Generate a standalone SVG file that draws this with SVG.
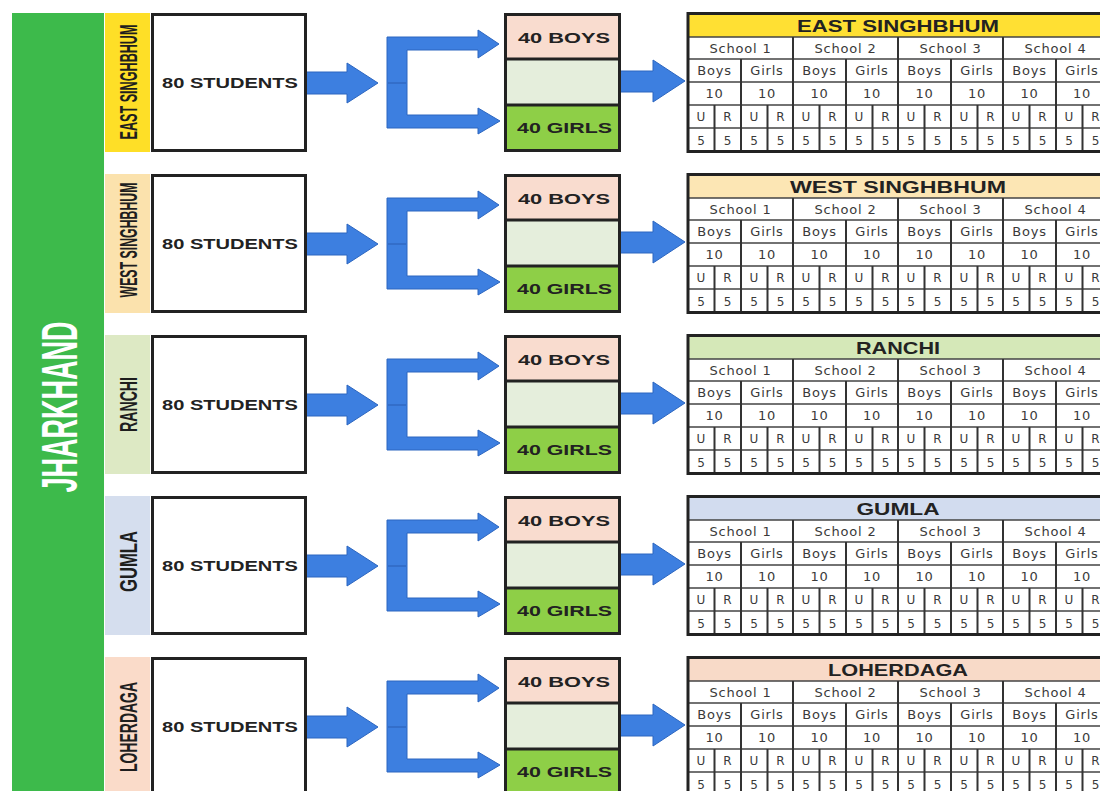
<svg xmlns="http://www.w3.org/2000/svg" width="1100" height="791" viewBox="0 0 1100 791">
<style>
.bg{fill:#ffffff}
.state{fill:#3dba4b}
.statet{font-family:"Liberation Sans",Arial,sans-serif;font-weight:bold;font-size:50px;fill:#ffffff;text-anchor:middle}
.dist{font-family:"Liberation Sans",Arial,sans-serif;font-weight:bold;font-size:23px;fill:#1e1e1e;text-anchor:middle}
.box{fill:#ffffff;stroke:#222;stroke-width:3}
.frame{fill:none;stroke:#222;stroke-width:3}
.big{font-family:"Liberation Sans",Arial,sans-serif;font-weight:bold;font-size:15px;fill:#222;text-anchor:middle}
.sec{stroke:#222;stroke-width:3}
.boys{fill:#f9dccf}
.mid{fill:#e5eedc}
.girls{fill:#8ecf47}
.arrow{fill:#3d7fe0;stroke:#2c66c0;stroke-width:1}
.seam{stroke:#2b5fb4;stroke-width:1;fill:none}
.tb{fill:none;stroke:#222;stroke-width:3}
.th{font-family:"Liberation Sans",Arial,sans-serif;font-weight:bold;font-size:17px;fill:#222;text-anchor:middle}
.hl{stroke:#444;stroke-width:1.3;fill:none}
.vl{stroke:#333;stroke-width:2;fill:none}
.tc{font-family:"DejaVu Sans",sans-serif;font-size:13px;letter-spacing:0.8px;fill:#3a3a3a;text-anchor:middle}
.ts{font-family:"DejaVu Sans",sans-serif;font-size:12px;fill:#3a3a3a;text-anchor:middle}
</style>
<rect class="bg" x="0" y="0" width="1100" height="791"/>
<g id="jharkhand">
<rect class="state" x="12" y="13" width="92" height="778"/>
<text class="statet" transform="translate(76.5,407) rotate(-90) scale(0.55,1)" x="0" y="0" textLength="311" lengthAdjust="spacingAndGlyphs">JHARKHAND</text>
</g>

<g id="connectors">
<g transform="translate(0,13)">
<path class="arrow" d="M306,59 H347 V50 L378,70 L347,90 V81 H306 Z"/>
<path class="arrow" d="M387,24 H478 V17 L499,31 L478,45 V37 H407 V102 H478 V95 L500,108 L478,121 V115 H387 Z"/>
<path class="seam" d="M388,70 H406"/>
<path class="arrow" d="M620,58 H653 V47 L685,68 L653,89 V79 H620 Z"/>
</g>
<g transform="translate(0,174)">
<path class="arrow" d="M306,59 H347 V50 L378,70 L347,90 V81 H306 Z"/>
<path class="arrow" d="M387,24 H478 V17 L499,31 L478,45 V37 H407 V102 H478 V95 L500,108 L478,121 V115 H387 Z"/>
<path class="seam" d="M388,70 H406"/>
<path class="arrow" d="M620,58 H653 V47 L685,68 L653,89 V79 H620 Z"/>
</g>
<g transform="translate(0,335)">
<path class="arrow" d="M306,59 H347 V50 L378,70 L347,90 V81 H306 Z"/>
<path class="arrow" d="M387,24 H478 V17 L499,31 L478,45 V37 H407 V102 H478 V95 L500,108 L478,121 V115 H387 Z"/>
<path class="seam" d="M388,70 H406"/>
<path class="arrow" d="M620,58 H653 V47 L685,68 L653,89 V79 H620 Z"/>
</g>
<g transform="translate(0,496)">
<path class="arrow" d="M306,59 H347 V50 L378,70 L347,90 V81 H306 Z"/>
<path class="arrow" d="M387,24 H478 V17 L499,31 L478,45 V37 H407 V102 H478 V95 L500,108 L478,121 V115 H387 Z"/>
<path class="seam" d="M388,70 H406"/>
<path class="arrow" d="M620,58 H653 V47 L685,68 L653,89 V79 H620 Z"/>
</g>
<g transform="translate(0,657)">
<path class="arrow" d="M306,59 H347 V50 L378,70 L347,90 V81 H306 Z"/>
<path class="arrow" d="M387,24 H478 V17 L499,31 L478,45 V37 H407 V102 H478 V95 L500,108 L478,121 V115 H387 Z"/>
<path class="seam" d="M388,70 H406"/>
<path class="arrow" d="M620,58 H653 V47 L685,68 L653,89 V79 H620 Z"/>
</g>
</g>

<!-- ROW 1 -->
<g id="row-east-singhbhum" transform="translate(0,13)">
<g id="east-singhbhum-label">
<rect x="105" y="0" width="45" height="139" fill="#fedf27"/>
<text class="dist" transform="translate(136.5,69) rotate(-90) scale(0.55,1)" textLength="209" lengthAdjust="spacingAndGlyphs">EAST SINGHBHUM</text>
</g>
<g id="east-singhbhum-students">
<rect class="box" x="152.5" y="1.5" width="153" height="136"/>
<text class="big" x="230" y="74.5" textLength="136" lengthAdjust="spacingAndGlyphs">80 STUDENTS</text>
</g>
<g id="east-singhbhum-split">
<rect class="boys" x="505" y="0" width="115" height="46"/>
<rect class="mid" x="505" y="46" width="115" height="46"/>
<rect class="girls" x="505" y="92" width="115" height="47"/>
<path class="sec" d="M505,46 H620 M505,92 H620"/>
<rect class="frame" x="505.5" y="1.5" width="114" height="136"/>
<text class="big" x="564" y="29.5" textLength="92" lengthAdjust="spacingAndGlyphs">40 BOYS</text>
<text class="big" x="564.5" y="120" textLength="95" lengthAdjust="spacingAndGlyphs">40 GIRLS</text>
</g>
<g id="east-singhbhum-table">
<rect x="688" y="0" width="422" height="139" fill="#ffffff"/>
<rect x="688" y="0" width="422" height="24" fill="#ffe033"/>
<path class="hl" d="M688,24 H1110 M688,46 H1110 M688,69 H1110 M688,92 H1110 M688,115 H1110"/>
<path class="vl" d="M793,24 V139 M898,24 V139 M1003,24 V139 M741,46 V139 M846,46 V139 M951,46 V139 M1056,46 V139 M714.5,92 V139 M767.5,92 V139 M819.5,92 V139 M872.5,92 V139 M924.5,92 V139 M977.5,92 V139 M1029.5,92 V139 M1082.5,92 V139"/>
<rect class="tb" x="688" y="0.5" width="422" height="138"/>
<text class="th" x="898" y="18.5" textLength="202" lengthAdjust="spacingAndGlyphs">EAST SINGHBHUM</text>
<text class="tc" y="39.5"><tspan x="740.5">School 1</tspan><tspan x="845.5">School 2</tspan><tspan x="950.5">School 3</tspan><tspan x="1055.5">School 4</tspan></text>
<text class="tc" y="62"><tspan x="714.5">Boys</tspan><tspan x="767">Girls</tspan><tspan x="819.5">Boys</tspan><tspan x="872">Girls</tspan><tspan x="924.5">Boys</tspan><tspan x="977">Girls</tspan><tspan x="1029.5">Boys</tspan><tspan x="1082">Girls</tspan></text>
<text class="tc" y="85"><tspan x="714.5">10</tspan><tspan x="767">10</tspan><tspan x="819.5">10</tspan><tspan x="872">10</tspan><tspan x="924.5">10</tspan><tspan x="977">10</tspan><tspan x="1029.5">10</tspan><tspan x="1082">10</tspan></text>
<text class="ts" y="108"><tspan x="701">U</tspan><tspan x="727.5">R</tspan><tspan x="754">U</tspan><tspan x="780.5">R</tspan><tspan x="806">U</tspan><tspan x="832.5">R</tspan><tspan x="859">U</tspan><tspan x="885.5">R</tspan><tspan x="911">U</tspan><tspan x="937.5">R</tspan><tspan x="964">U</tspan><tspan x="990.5">R</tspan><tspan x="1016">U</tspan><tspan x="1042.5">R</tspan><tspan x="1069">U</tspan><tspan x="1095.5">R</tspan></text>
<text class="ts" y="131.5"><tspan x="701">5</tspan><tspan x="727.5">5</tspan><tspan x="754">5</tspan><tspan x="780.5">5</tspan><tspan x="806">5</tspan><tspan x="832.5">5</tspan><tspan x="859">5</tspan><tspan x="885.5">5</tspan><tspan x="911">5</tspan><tspan x="937.5">5</tspan><tspan x="964">5</tspan><tspan x="990.5">5</tspan><tspan x="1016">5</tspan><tspan x="1042.5">5</tspan><tspan x="1069">5</tspan><tspan x="1095.5">5</tspan></text>
</g>
</g>

<!-- ROW 2 -->
<g id="row-west-singhbhum" transform="translate(0,174)">
<g id="west-singhbhum-label">
<rect x="105" y="0" width="45" height="139" fill="#fbe2ad"/>
<text class="dist" transform="translate(136.5,66) rotate(-90) scale(0.55,1)" textLength="209" lengthAdjust="spacingAndGlyphs">WEST SINGHBHUM</text>
</g>
<g id="west-singhbhum-students">
<rect class="box" x="152.5" y="1.5" width="153" height="136"/>
<text class="big" x="230" y="74.5" textLength="136" lengthAdjust="spacingAndGlyphs">80 STUDENTS</text>
</g>
<g id="west-singhbhum-split">
<rect class="boys" x="505" y="0" width="115" height="46"/>
<rect class="mid" x="505" y="46" width="115" height="46"/>
<rect class="girls" x="505" y="92" width="115" height="47"/>
<path class="sec" d="M505,46 H620 M505,92 H620"/>
<rect class="frame" x="505.5" y="1.5" width="114" height="136"/>
<text class="big" x="564" y="29.5" textLength="92" lengthAdjust="spacingAndGlyphs">40 BOYS</text>
<text class="big" x="564.5" y="120" textLength="95" lengthAdjust="spacingAndGlyphs">40 GIRLS</text>
</g>
<g id="west-singhbhum-table">
<rect x="688" y="0" width="422" height="139" fill="#ffffff"/>
<rect x="688" y="0" width="422" height="24" fill="#fce6b4"/>
<path class="hl" d="M688,24 H1110 M688,46 H1110 M688,69 H1110 M688,92 H1110 M688,115 H1110"/>
<path class="vl" d="M793,24 V139 M898,24 V139 M1003,24 V139 M741,46 V139 M846,46 V139 M951,46 V139 M1056,46 V139 M714.5,92 V139 M767.5,92 V139 M819.5,92 V139 M872.5,92 V139 M924.5,92 V139 M977.5,92 V139 M1029.5,92 V139 M1082.5,92 V139"/>
<rect class="tb" x="688" y="0.5" width="422" height="138"/>
<text class="th" x="898" y="18.5" textLength="216" lengthAdjust="spacingAndGlyphs">WEST  SINGHBHUM</text>
<text class="tc" y="39.5"><tspan x="740.5">School 1</tspan><tspan x="845.5">School 2</tspan><tspan x="950.5">School 3</tspan><tspan x="1055.5">School 4</tspan></text>
<text class="tc" y="62"><tspan x="714.5">Boys</tspan><tspan x="767">Girls</tspan><tspan x="819.5">Boys</tspan><tspan x="872">Girls</tspan><tspan x="924.5">Boys</tspan><tspan x="977">Girls</tspan><tspan x="1029.5">Boys</tspan><tspan x="1082">Girls</tspan></text>
<text class="tc" y="85"><tspan x="714.5">10</tspan><tspan x="767">10</tspan><tspan x="819.5">10</tspan><tspan x="872">10</tspan><tspan x="924.5">10</tspan><tspan x="977">10</tspan><tspan x="1029.5">10</tspan><tspan x="1082">10</tspan></text>
<text class="ts" y="108"><tspan x="701">U</tspan><tspan x="727.5">R</tspan><tspan x="754">U</tspan><tspan x="780.5">R</tspan><tspan x="806">U</tspan><tspan x="832.5">R</tspan><tspan x="859">U</tspan><tspan x="885.5">R</tspan><tspan x="911">U</tspan><tspan x="937.5">R</tspan><tspan x="964">U</tspan><tspan x="990.5">R</tspan><tspan x="1016">U</tspan><tspan x="1042.5">R</tspan><tspan x="1069">U</tspan><tspan x="1095.5">R</tspan></text>
<text class="ts" y="131.5"><tspan x="701">5</tspan><tspan x="727.5">5</tspan><tspan x="754">5</tspan><tspan x="780.5">5</tspan><tspan x="806">5</tspan><tspan x="832.5">5</tspan><tspan x="859">5</tspan><tspan x="885.5">5</tspan><tspan x="911">5</tspan><tspan x="937.5">5</tspan><tspan x="964">5</tspan><tspan x="990.5">5</tspan><tspan x="1016">5</tspan><tspan x="1042.5">5</tspan><tspan x="1069">5</tspan><tspan x="1095.5">5</tspan></text>
</g>
</g>

<!-- ROW 3 -->
<g id="row-ranchi" transform="translate(0,335)">
<g id="ranchi-label">
<rect x="105" y="0" width="45" height="139" fill="#dde9c4"/>
<text class="dist" transform="translate(136.5,69.5) rotate(-90) scale(0.55,1)" textLength="100" lengthAdjust="spacingAndGlyphs">RANCHI</text>
</g>
<g id="ranchi-students">
<rect class="box" x="152.5" y="1.5" width="153" height="136"/>
<text class="big" x="230" y="74.5" textLength="136" lengthAdjust="spacingAndGlyphs">80 STUDENTS</text>
</g>
<g id="ranchi-split">
<rect class="boys" x="505" y="0" width="115" height="46"/>
<rect class="mid" x="505" y="46" width="115" height="46"/>
<rect class="girls" x="505" y="92" width="115" height="47"/>
<path class="sec" d="M505,46 H620 M505,92 H620"/>
<rect class="frame" x="505.5" y="1.5" width="114" height="136"/>
<text class="big" x="564" y="29.5" textLength="92" lengthAdjust="spacingAndGlyphs">40 BOYS</text>
<text class="big" x="564.5" y="120" textLength="95" lengthAdjust="spacingAndGlyphs">40 GIRLS</text>
</g>
<g id="ranchi-table">
<rect x="688" y="0" width="422" height="139" fill="#ffffff"/>
<rect x="688" y="0" width="422" height="24" fill="#d5e8b8"/>
<path class="hl" d="M688,24 H1110 M688,46 H1110 M688,69 H1110 M688,92 H1110 M688,115 H1110"/>
<path class="vl" d="M793,24 V139 M898,24 V139 M1003,24 V139 M741,46 V139 M846,46 V139 M951,46 V139 M1056,46 V139 M714.5,92 V139 M767.5,92 V139 M819.5,92 V139 M872.5,92 V139 M924.5,92 V139 M977.5,92 V139 M1029.5,92 V139 M1082.5,92 V139"/>
<rect class="tb" x="688" y="0.5" width="422" height="138"/>
<text class="th" x="898" y="18.5" textLength="84" lengthAdjust="spacingAndGlyphs">RANCHI</text>
<text class="tc" y="39.5"><tspan x="740.5">School 1</tspan><tspan x="845.5">School 2</tspan><tspan x="950.5">School 3</tspan><tspan x="1055.5">School 4</tspan></text>
<text class="tc" y="62"><tspan x="714.5">Boys</tspan><tspan x="767">Girls</tspan><tspan x="819.5">Boys</tspan><tspan x="872">Girls</tspan><tspan x="924.5">Boys</tspan><tspan x="977">Girls</tspan><tspan x="1029.5">Boys</tspan><tspan x="1082">Girls</tspan></text>
<text class="tc" y="85"><tspan x="714.5">10</tspan><tspan x="767">10</tspan><tspan x="819.5">10</tspan><tspan x="872">10</tspan><tspan x="924.5">10</tspan><tspan x="977">10</tspan><tspan x="1029.5">10</tspan><tspan x="1082">10</tspan></text>
<text class="ts" y="108"><tspan x="701">U</tspan><tspan x="727.5">R</tspan><tspan x="754">U</tspan><tspan x="780.5">R</tspan><tspan x="806">U</tspan><tspan x="832.5">R</tspan><tspan x="859">U</tspan><tspan x="885.5">R</tspan><tspan x="911">U</tspan><tspan x="937.5">R</tspan><tspan x="964">U</tspan><tspan x="990.5">R</tspan><tspan x="1016">U</tspan><tspan x="1042.5">R</tspan><tspan x="1069">U</tspan><tspan x="1095.5">R</tspan></text>
<text class="ts" y="131.5"><tspan x="701">5</tspan><tspan x="727.5">5</tspan><tspan x="754">5</tspan><tspan x="780.5">5</tspan><tspan x="806">5</tspan><tspan x="832.5">5</tspan><tspan x="859">5</tspan><tspan x="885.5">5</tspan><tspan x="911">5</tspan><tspan x="937.5">5</tspan><tspan x="964">5</tspan><tspan x="990.5">5</tspan><tspan x="1016">5</tspan><tspan x="1042.5">5</tspan><tspan x="1069">5</tspan><tspan x="1095.5">5</tspan></text>
</g>
</g>

<!-- ROW 4 -->
<g id="row-gumla" transform="translate(0,496)">
<g id="gumla-label">
<rect x="105" y="0" width="45" height="139" fill="#d5deee"/>
<text class="dist" transform="translate(136.5,65.5) rotate(-90) scale(0.55,1)" textLength="111" lengthAdjust="spacingAndGlyphs">GUMLA</text>
</g>
<g id="gumla-students">
<rect class="box" x="152.5" y="1.5" width="153" height="136"/>
<text class="big" x="230" y="74.5" textLength="136" lengthAdjust="spacingAndGlyphs">80 STUDENTS</text>
</g>
<g id="gumla-split">
<rect class="boys" x="505" y="0" width="115" height="46"/>
<rect class="mid" x="505" y="46" width="115" height="46"/>
<rect class="girls" x="505" y="92" width="115" height="47"/>
<path class="sec" d="M505,46 H620 M505,92 H620"/>
<rect class="frame" x="505.5" y="1.5" width="114" height="136"/>
<text class="big" x="564" y="29.5" textLength="92" lengthAdjust="spacingAndGlyphs">40 BOYS</text>
<text class="big" x="564.5" y="120" textLength="95" lengthAdjust="spacingAndGlyphs">40 GIRLS</text>
</g>
<g id="gumla-table">
<rect x="688" y="0" width="422" height="139" fill="#ffffff"/>
<rect x="688" y="0" width="422" height="24" fill="#d2dcef"/>
<path class="hl" d="M688,24 H1110 M688,46 H1110 M688,69 H1110 M688,92 H1110 M688,115 H1110"/>
<path class="vl" d="M793,24 V139 M898,24 V139 M1003,24 V139 M741,46 V139 M846,46 V139 M951,46 V139 M1056,46 V139 M714.5,92 V139 M767.5,92 V139 M819.5,92 V139 M872.5,92 V139 M924.5,92 V139 M977.5,92 V139 M1029.5,92 V139 M1082.5,92 V139"/>
<rect class="tb" x="688" y="0.5" width="422" height="138"/>
<text class="th" x="898" y="18.5" textLength="83" lengthAdjust="spacingAndGlyphs">GUMLA</text>
<text class="tc" y="39.5"><tspan x="740.5">School 1</tspan><tspan x="845.5">School 2</tspan><tspan x="950.5">School 3</tspan><tspan x="1055.5">School 4</tspan></text>
<text class="tc" y="62"><tspan x="714.5">Boys</tspan><tspan x="767">Girls</tspan><tspan x="819.5">Boys</tspan><tspan x="872">Girls</tspan><tspan x="924.5">Boys</tspan><tspan x="977">Girls</tspan><tspan x="1029.5">Boys</tspan><tspan x="1082">Girls</tspan></text>
<text class="tc" y="85"><tspan x="714.5">10</tspan><tspan x="767">10</tspan><tspan x="819.5">10</tspan><tspan x="872">10</tspan><tspan x="924.5">10</tspan><tspan x="977">10</tspan><tspan x="1029.5">10</tspan><tspan x="1082">10</tspan></text>
<text class="ts" y="108"><tspan x="701">U</tspan><tspan x="727.5">R</tspan><tspan x="754">U</tspan><tspan x="780.5">R</tspan><tspan x="806">U</tspan><tspan x="832.5">R</tspan><tspan x="859">U</tspan><tspan x="885.5">R</tspan><tspan x="911">U</tspan><tspan x="937.5">R</tspan><tspan x="964">U</tspan><tspan x="990.5">R</tspan><tspan x="1016">U</tspan><tspan x="1042.5">R</tspan><tspan x="1069">U</tspan><tspan x="1095.5">R</tspan></text>
<text class="ts" y="131.5"><tspan x="701">5</tspan><tspan x="727.5">5</tspan><tspan x="754">5</tspan><tspan x="780.5">5</tspan><tspan x="806">5</tspan><tspan x="832.5">5</tspan><tspan x="859">5</tspan><tspan x="885.5">5</tspan><tspan x="911">5</tspan><tspan x="937.5">5</tspan><tspan x="964">5</tspan><tspan x="990.5">5</tspan><tspan x="1016">5</tspan><tspan x="1042.5">5</tspan><tspan x="1069">5</tspan><tspan x="1095.5">5</tspan></text>
</g>
</g>

<!-- ROW 5 -->
<g id="row-loherdaga" transform="translate(0,657)">
<g id="loherdaga-label">
<rect x="105" y="0" width="45" height="139" fill="#fadbc9"/>
<text class="dist" transform="translate(136.5,70) rotate(-90) scale(0.55,1)" textLength="164" lengthAdjust="spacingAndGlyphs">LOHERDAGA</text>
</g>
<g id="loherdaga-students">
<rect class="box" x="152.5" y="1.5" width="153" height="136"/>
<text class="big" x="230" y="74.5" textLength="136" lengthAdjust="spacingAndGlyphs">80 STUDENTS</text>
</g>
<g id="loherdaga-split">
<rect class="boys" x="505" y="0" width="115" height="46"/>
<rect class="mid" x="505" y="46" width="115" height="46"/>
<rect class="girls" x="505" y="92" width="115" height="47"/>
<path class="sec" d="M505,46 H620 M505,92 H620"/>
<rect class="frame" x="505.5" y="1.5" width="114" height="136"/>
<text class="big" x="564" y="29.5" textLength="92" lengthAdjust="spacingAndGlyphs">40 BOYS</text>
<text class="big" x="564.5" y="120" textLength="95" lengthAdjust="spacingAndGlyphs">40 GIRLS</text>
</g>
<g id="loherdaga-table">
<rect x="688" y="0" width="422" height="139" fill="#ffffff"/>
<rect x="688" y="0" width="422" height="24" fill="#f8dac8"/>
<path class="hl" d="M688,24 H1110 M688,46 H1110 M688,69 H1110 M688,92 H1110 M688,115 H1110"/>
<path class="vl" d="M793,24 V139 M898,24 V139 M1003,24 V139 M741,46 V139 M846,46 V139 M951,46 V139 M1056,46 V139 M714.5,92 V139 M767.5,92 V139 M819.5,92 V139 M872.5,92 V139 M924.5,92 V139 M977.5,92 V139 M1029.5,92 V139 M1082.5,92 V139"/>
<rect class="tb" x="688" y="0.5" width="422" height="138"/>
<text class="th" x="898" y="18.5" textLength="140" lengthAdjust="spacingAndGlyphs">LOHERDAGA</text>
<text class="tc" y="39.5"><tspan x="740.5">School 1</tspan><tspan x="845.5">School 2</tspan><tspan x="950.5">School 3</tspan><tspan x="1055.5">School 4</tspan></text>
<text class="tc" y="62"><tspan x="714.5">Boys</tspan><tspan x="767">Girls</tspan><tspan x="819.5">Boys</tspan><tspan x="872">Girls</tspan><tspan x="924.5">Boys</tspan><tspan x="977">Girls</tspan><tspan x="1029.5">Boys</tspan><tspan x="1082">Girls</tspan></text>
<text class="tc" y="85"><tspan x="714.5">10</tspan><tspan x="767">10</tspan><tspan x="819.5">10</tspan><tspan x="872">10</tspan><tspan x="924.5">10</tspan><tspan x="977">10</tspan><tspan x="1029.5">10</tspan><tspan x="1082">10</tspan></text>
<text class="ts" y="108"><tspan x="701">U</tspan><tspan x="727.5">R</tspan><tspan x="754">U</tspan><tspan x="780.5">R</tspan><tspan x="806">U</tspan><tspan x="832.5">R</tspan><tspan x="859">U</tspan><tspan x="885.5">R</tspan><tspan x="911">U</tspan><tspan x="937.5">R</tspan><tspan x="964">U</tspan><tspan x="990.5">R</tspan><tspan x="1016">U</tspan><tspan x="1042.5">R</tspan><tspan x="1069">U</tspan><tspan x="1095.5">R</tspan></text>
<text class="ts" y="131.5"><tspan x="701">5</tspan><tspan x="727.5">5</tspan><tspan x="754">5</tspan><tspan x="780.5">5</tspan><tspan x="806">5</tspan><tspan x="832.5">5</tspan><tspan x="859">5</tspan><tspan x="885.5">5</tspan><tspan x="911">5</tspan><tspan x="937.5">5</tspan><tspan x="964">5</tspan><tspan x="990.5">5</tspan><tspan x="1016">5</tspan><tspan x="1042.5">5</tspan><tspan x="1069">5</tspan><tspan x="1095.5">5</tspan></text>
</g>
</g>
</svg>
